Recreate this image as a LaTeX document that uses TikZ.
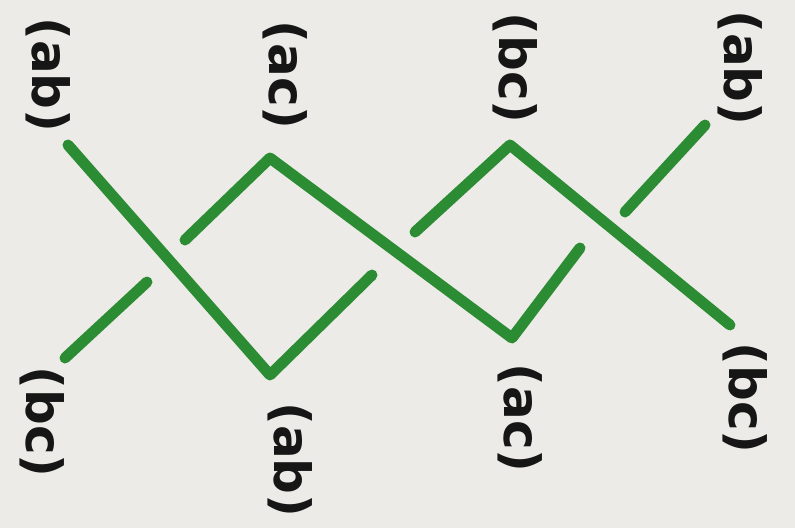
\documentclass[tikz,border=0pt]{standalone}
\usepackage{fontspec}
\setmainfont{DejaVu Sans}
\definecolor{paper}{RGB}{236,235,231}
\definecolor{strand}{RGB}{44,140,52}
\definecolor{ink}{RGB}{22,22,22}
\begin{document}
\begin{tikzpicture}[x=1pt,y=-1pt,
  lbl/.style={rotate=-90,font=\fontsize{50}{50}\selectfont\bfseries,text=ink,inner sep=0pt},
  braid/.style={draw=strand,line width=11pt,line cap=round,line join=round}]
\fill[paper] (0,0) rectangle (795,528);
\useasboundingbox (0,0) rectangle (795,528);
% labels
\node[lbl] (t1) at (48,75) {(ab)};
\node[lbl] (t2) at (285,75) {(ac)};
\node[lbl] (t3) at (515,68) {(bc)};
\node[lbl] (t4) at (740,68) {(ab)};
\node[lbl] (b1) at (42,422) {(bc)};
\node[lbl] (b2) at (290,460) {(ab)};
\node[lbl] (b3) at (520,418) {(ac)};
\node[lbl] (b4) at (745,398) {(bc)};
% strand A
\coordinate (a1) at (68,145);
\coordinate (a2) at (270,375);
\coordinate (a3) at (372,275);
\coordinate (a4) at (415,232);
\coordinate (a5) at (510,145);
\coordinate (a6) at (730,325);
% strand B
\coordinate (s1) at (65,358);
\coordinate (s2) at (147,282);
\coordinate (s3) at (185,240);
\coordinate (s4) at (270,158);
\coordinate (s5) at (512,338);
\coordinate (s6) at (580,248);
\coordinate (s7) at (625,212);
\coordinate (s8) at (705,125);
\draw[braid] (a1) -- (a2) -- (a3);
\draw[braid] (a4) -- (a5) -- (a6);
\draw[braid] (s1) -- (s2);
\draw[braid] (s3) -- (s4) -- (s5) -- (s6);
\draw[braid] (s7) -- (s8);
\end{tikzpicture}
\end{document}
